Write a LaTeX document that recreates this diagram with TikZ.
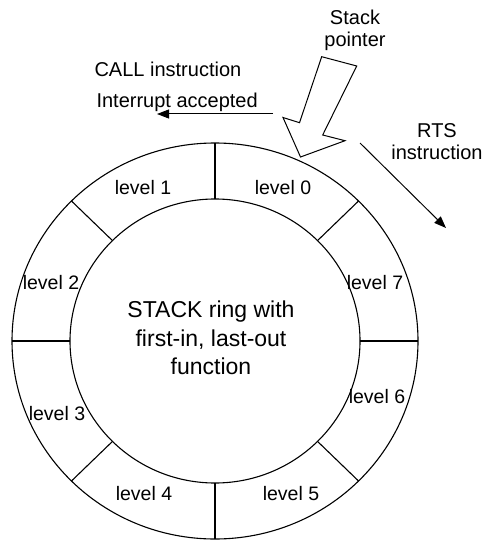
\documentclass[tikz,border=0pt]{standalone}
\usepackage{fontspec}
\setmainfont{Liberation Sans}
\usetikzlibrary{arrows.meta}
\begin{document}
\begin{tikzpicture}[x=1pt,y=-1pt,line width=1.1pt,
  lvl/.style={font=\fontsize{19.5}{22}\selectfont,inner sep=0pt},
  lbl/.style={font=\fontsize{20}{22}\selectfont,inner sep=0pt,align=center},
  core/.style={font=\fontsize{23}{28.5}\selectfont,inner sep=0pt,align=center},
  flow/.style={-{Triangle[length=12pt,width=9pt]},line width=1pt}]
\useasboundingbox (0,0) rectangle (485,540);

% the ring of eight stack levels
\coordinate (c) at (215,341);
\draw (c) ellipse [x radius=203pt,y radius=198pt];
\draw (c) ellipse [x radius=145pt,y radius=142pt];
\foreach \a in {0,45,...,315}
  \draw ([shift={(\a:145pt and 142pt)}]c) -- ([shift={(\a:203pt and 198pt)}]c);

\node[lvl] (l0) at (283,188) {level 0};
\node[lvl] (l1) at (143,188) {level 1};
\node[lvl] (l2) at (51,283) {level 2};
\node[lvl] (l3) at (57,414) {level 3};
\node[lvl] (l4) at (144,494) {level 4};
\node[lvl] (l5) at (291,494) {level 5};
\node[lvl] (l6) at (377,397) {level 6};
\node[lvl] (l7) at (375,283) {level 7};

\node[core] (ring) at (211,338) {STACK ring with\\first-in, last-out\\function};

% stack pointer block arrow
\node[lbl,anchor=base] (sp) at (355,47) {Stack\\pointer};
\draw[line width=1pt,line join=miter] (321.7,56.7) -- (356.7,66) -- (322.7,135) -- (345,140.7)
  -- (300.5,157) -- (283,117.5) -- (299.5,122.7) -- cycle;

% push direction
\node[lbl,anchor=base west] (call) at (94,77) {CALL instruction};
\node[lbl,anchor=base west] (irq) at (96,108) {Interrupt accepted};
\coordinate (pushfrom) at (273,114);
\coordinate (pushto) at (157,114);
\draw[flow] (pushfrom) -- (pushto);

% pop direction
\node[lbl,anchor=base] (rts) at (437,160) {RTS\\instruction};
\coordinate (popfrom) at (360,143);
\coordinate (popto) at (446,228);
\draw[flow] (popfrom) -- (popto);
\end{tikzpicture}
\end{document}
